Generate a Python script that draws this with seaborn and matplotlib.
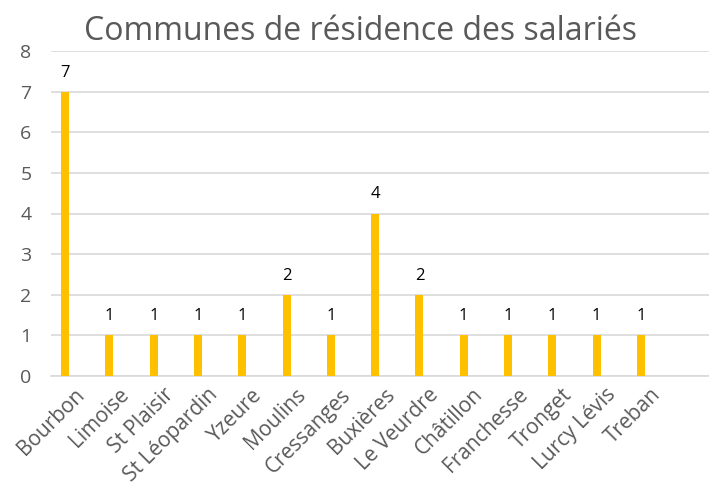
import matplotlib
matplotlib.use("Agg")
import matplotlib.pyplot as plt
import matplotlib.transforms as mtransforms
import seaborn as sns
import pandas as pd

communes = ["Bourbon", "Limoise", "St Plaisir", "St Léopardin", "Yzeure", "Moulins",
            "Cressanges", "Buxières", "Le Veurdre", "Châtillon", "Franchesse",
            "Tronget", "Lurcy Lévis", "Treban"]
salaries = [7, 1, 1, 1, 1, 2, 1, 4, 2, 1, 1, 1, 1, 1]
yticks = [0, 1, 2, 3, 4, 5, 6, 7, 8]
title = "Communes de résidence des salariés"

sns.set_theme(style="white")
plt.rcParams['font.family'] = ['Open Sans', 'DejaVu Sans']

df = pd.DataFrame({"commune": communes, "n": salaries})

fig = plt.figure(figsize=(7.09, 4.87), dpi=100)
ax = fig.add_axes([51/709, (487-376)/487, 1 - 51/709, (376-51)/487])

sns.barplot(data=df, x="commune", y="n", color="#FFC000", saturation=1,
            width=0.18, ax=ax, zorder=3, linewidth=0, edgecolor="none")

ax.set_xlim(-0.32, 14.54)
ax.set_ylim(0, 8)
ax.set_yticks(yticks)
ax.yaxis.grid(True, color="#D9D9D9", linewidth=1.2, zorder=0)
ax.set_axisbelow(True)
for s in ["top", "right", "left"]:
    ax.spines[s].set_visible(False)
ax.spines["bottom"].set_color("#D9D9D9")
ax.spines["bottom"].set_linewidth(1.2)
ax.set_xlabel("")
ax.set_ylabel("")
ax.tick_params(axis="both", length=0, colors="#595959")
ax.tick_params(axis="y", labelsize=14, pad=14)
ax.tick_params(axis="x", labelsize=15, pad=6)
offset = mtransforms.ScaledTranslation(9/100, 0, fig.dpi_scale_trans)
for lab in ax.get_xticklabels():
    lab.set_rotation(45)
    lab.set_ha("right")
    lab.set_va("top")
    lab.set_rotation_mode("anchor")
    lab.set_transform(lab.get_transform() + offset)

for c in ax.containers:
    ax.bar_label(c, fmt="%d", padding=8, fontsize=12, color="black")

fig.text(0.508, 0.935, title, ha="center", va="center", fontsize=23, color="#595959")

fig.savefig("out.png", dpi=100)
